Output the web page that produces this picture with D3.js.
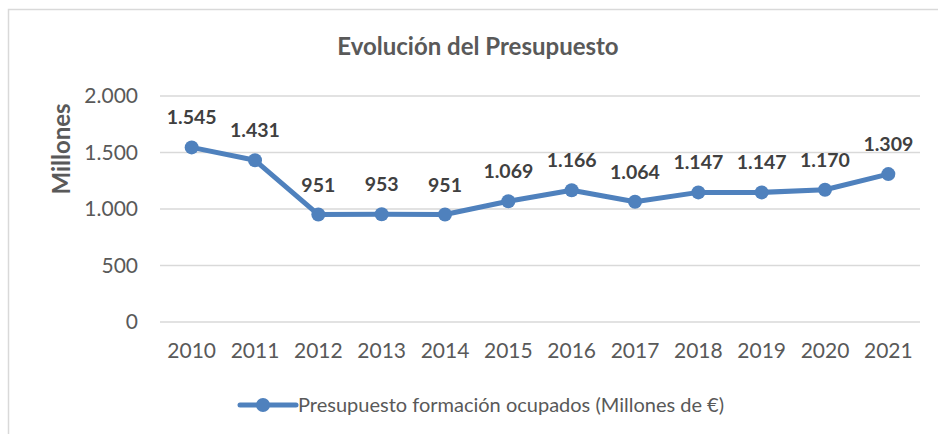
<!DOCTYPE html>
<html>
<head>
<meta charset="utf-8">
<script src="https://cdn.jsdelivr.net/npm/d3@7"></script>
<style>
  body { margin: 0; background: #fff; }
  svg { font-family: Lato, "Open Sans", sans-serif; }
</style>
</head>
<body>
<div id="chart"></div>
<script>
// Evolución del Presupuesto - line chart

const years = ["2010", "2011", "2012", "2013", "2014", "2015", "2016", "2017", "2018", "2019", "2020", "2021"];
const budget = [1545, 1431, 951, 953, 951, 1069, 1166, 1064, 1147, 1147, 1170, 1309];
const yTicks = [0, 500, 1000, 1500, 2000];
const seriesName = "Presupuesto formación ocupados (Millones de €)";

const width = 938;
const height = 434;
const margin = { top: 96, right: 18, bottom: 112, left: 160 };
const lineColor = "#4f81bd";

const svg = d3.select("#chart")
    .append("svg")
    .attr("width", width)
    .attr("height", height);

// outer chart border
svg.append("rect")
    .attr("x", 8.5)
    .attr("y", 9.5)
    .attr("width", width + 10)
    .attr("height", height + 10)
    .attr("fill", "none")
    .attr("stroke", "#d9d9d9")
    .attr("stroke-width", 1.5);

const x = d3.scaleBand()
    .domain(years)
    .range([margin.left, width - margin.right]);

const y = d3.scaleLinear()
    .domain([0, 2000])
    .range([height - margin.bottom, margin.top]);

// gridlines
svg.append("g")
    .selectAll("line")
    .data(yTicks)
    .join("line")
    .attr("x1", margin.left)
    .attr("x2", width - margin.right)
    .attr("y1", d => y(d))
    .attr("y2", d => y(d))
    .attr("stroke", "#d9d9d9")
    .attr("stroke-width", 1.5);

const fmt = d3.formatLocale({ decimal: ",", thousands: ".", grouping: [3], currency: ["", "€"] }).format(",");

// y axis
const yAxis = svg.append("g")
    .attr("transform", `translate(${margin.left - 22},0)`)
    .call(d3.axisLeft(y).tickValues(yTicks).tickFormat(fmt).tickSize(0).tickPadding(0));
yAxis.select(".domain").remove();
yAxis.selectAll("text")
    .attr("fill", "#595959")
    .style("font-size", "21px")
    .style("font-family", "Lato, sans-serif");

// x axis
const xAxis = svg.append("g")
    .attr("transform", `translate(0,${height - margin.bottom + 21})`)
    .call(d3.axisBottom(x).tickSize(0).tickPadding(0));
xAxis.select(".domain").remove();
xAxis.selectAll("text")
    .attr("fill", "#595959")
    .attr("dy", "0.7em")
    .style("font-size", "21px")
    .style("font-family", "Lato, sans-serif");

// title
svg.append("text")
    .attr("x", 478)
    .attr("y", 55)
    .attr("text-anchor", "middle")
    .attr("fill", "#595959")
    .style("font-size", "24px")
    .style("font-weight", "bold")
    .text("Evolución del Presupuesto");

// y axis title
svg.append("text")
    .attr("transform", `translate(70,${(margin.top + height - margin.bottom) / 2 - 60}) rotate(-90)`)
    .attr("text-anchor", "middle")
    .attr("fill", "#595959")
    .style("font-size", "24px")
    .style("font-weight", "bold")
    .text("Millones");

const cx = d => x(d) + x.bandwidth() / 2;

const line = d3.line()
    .x((d, i) => cx(years[i]))
    .y(d => y(d));

svg.append("path")
    .datum(budget)
    .attr("d", line)
    .attr("fill", "none")
    .attr("stroke", lineColor)
    .attr("stroke-width", 5)
    .attr("stroke-linejoin", "round");

svg.append("g")
    .selectAll("circle")
    .data(budget)
    .join("circle")
    .attr("cx", (d, i) => cx(years[i]))
    .attr("cy", d => y(d))
    .attr("r", 7)
    .attr("fill", lineColor);

// data labels
svg.append("g")
    .selectAll("text")
    .data(budget)
    .join("text")
    .attr("x", (d, i) => cx(years[i]))
    .attr("y", d => y(d) - 23)
    .attr("text-anchor", "middle")
    .attr("fill", "#404040")
    .style("font-size", "19.5px")
    .style("font-weight", "bold")
    .text(d => fmt(d));

// legend
const legend = svg.append("g").attr("transform", "translate(240,405)");
legend.append("line")
    .attr("x1", 0)
    .attr("x2", 56)
    .attr("stroke", lineColor)
    .attr("stroke-width", 5)
    .attr("stroke-linecap", "round");
legend.append("circle")
    .attr("cx", 23)
    .attr("r", 7)
    .attr("fill", lineColor);
legend.append("text")
    .attr("x", 58)
    .attr("dy", "0.35em")
    .attr("fill", "#595959")
    .style("font-size", "20px")
    .text(seriesName);
</script>
</body>
</html>
